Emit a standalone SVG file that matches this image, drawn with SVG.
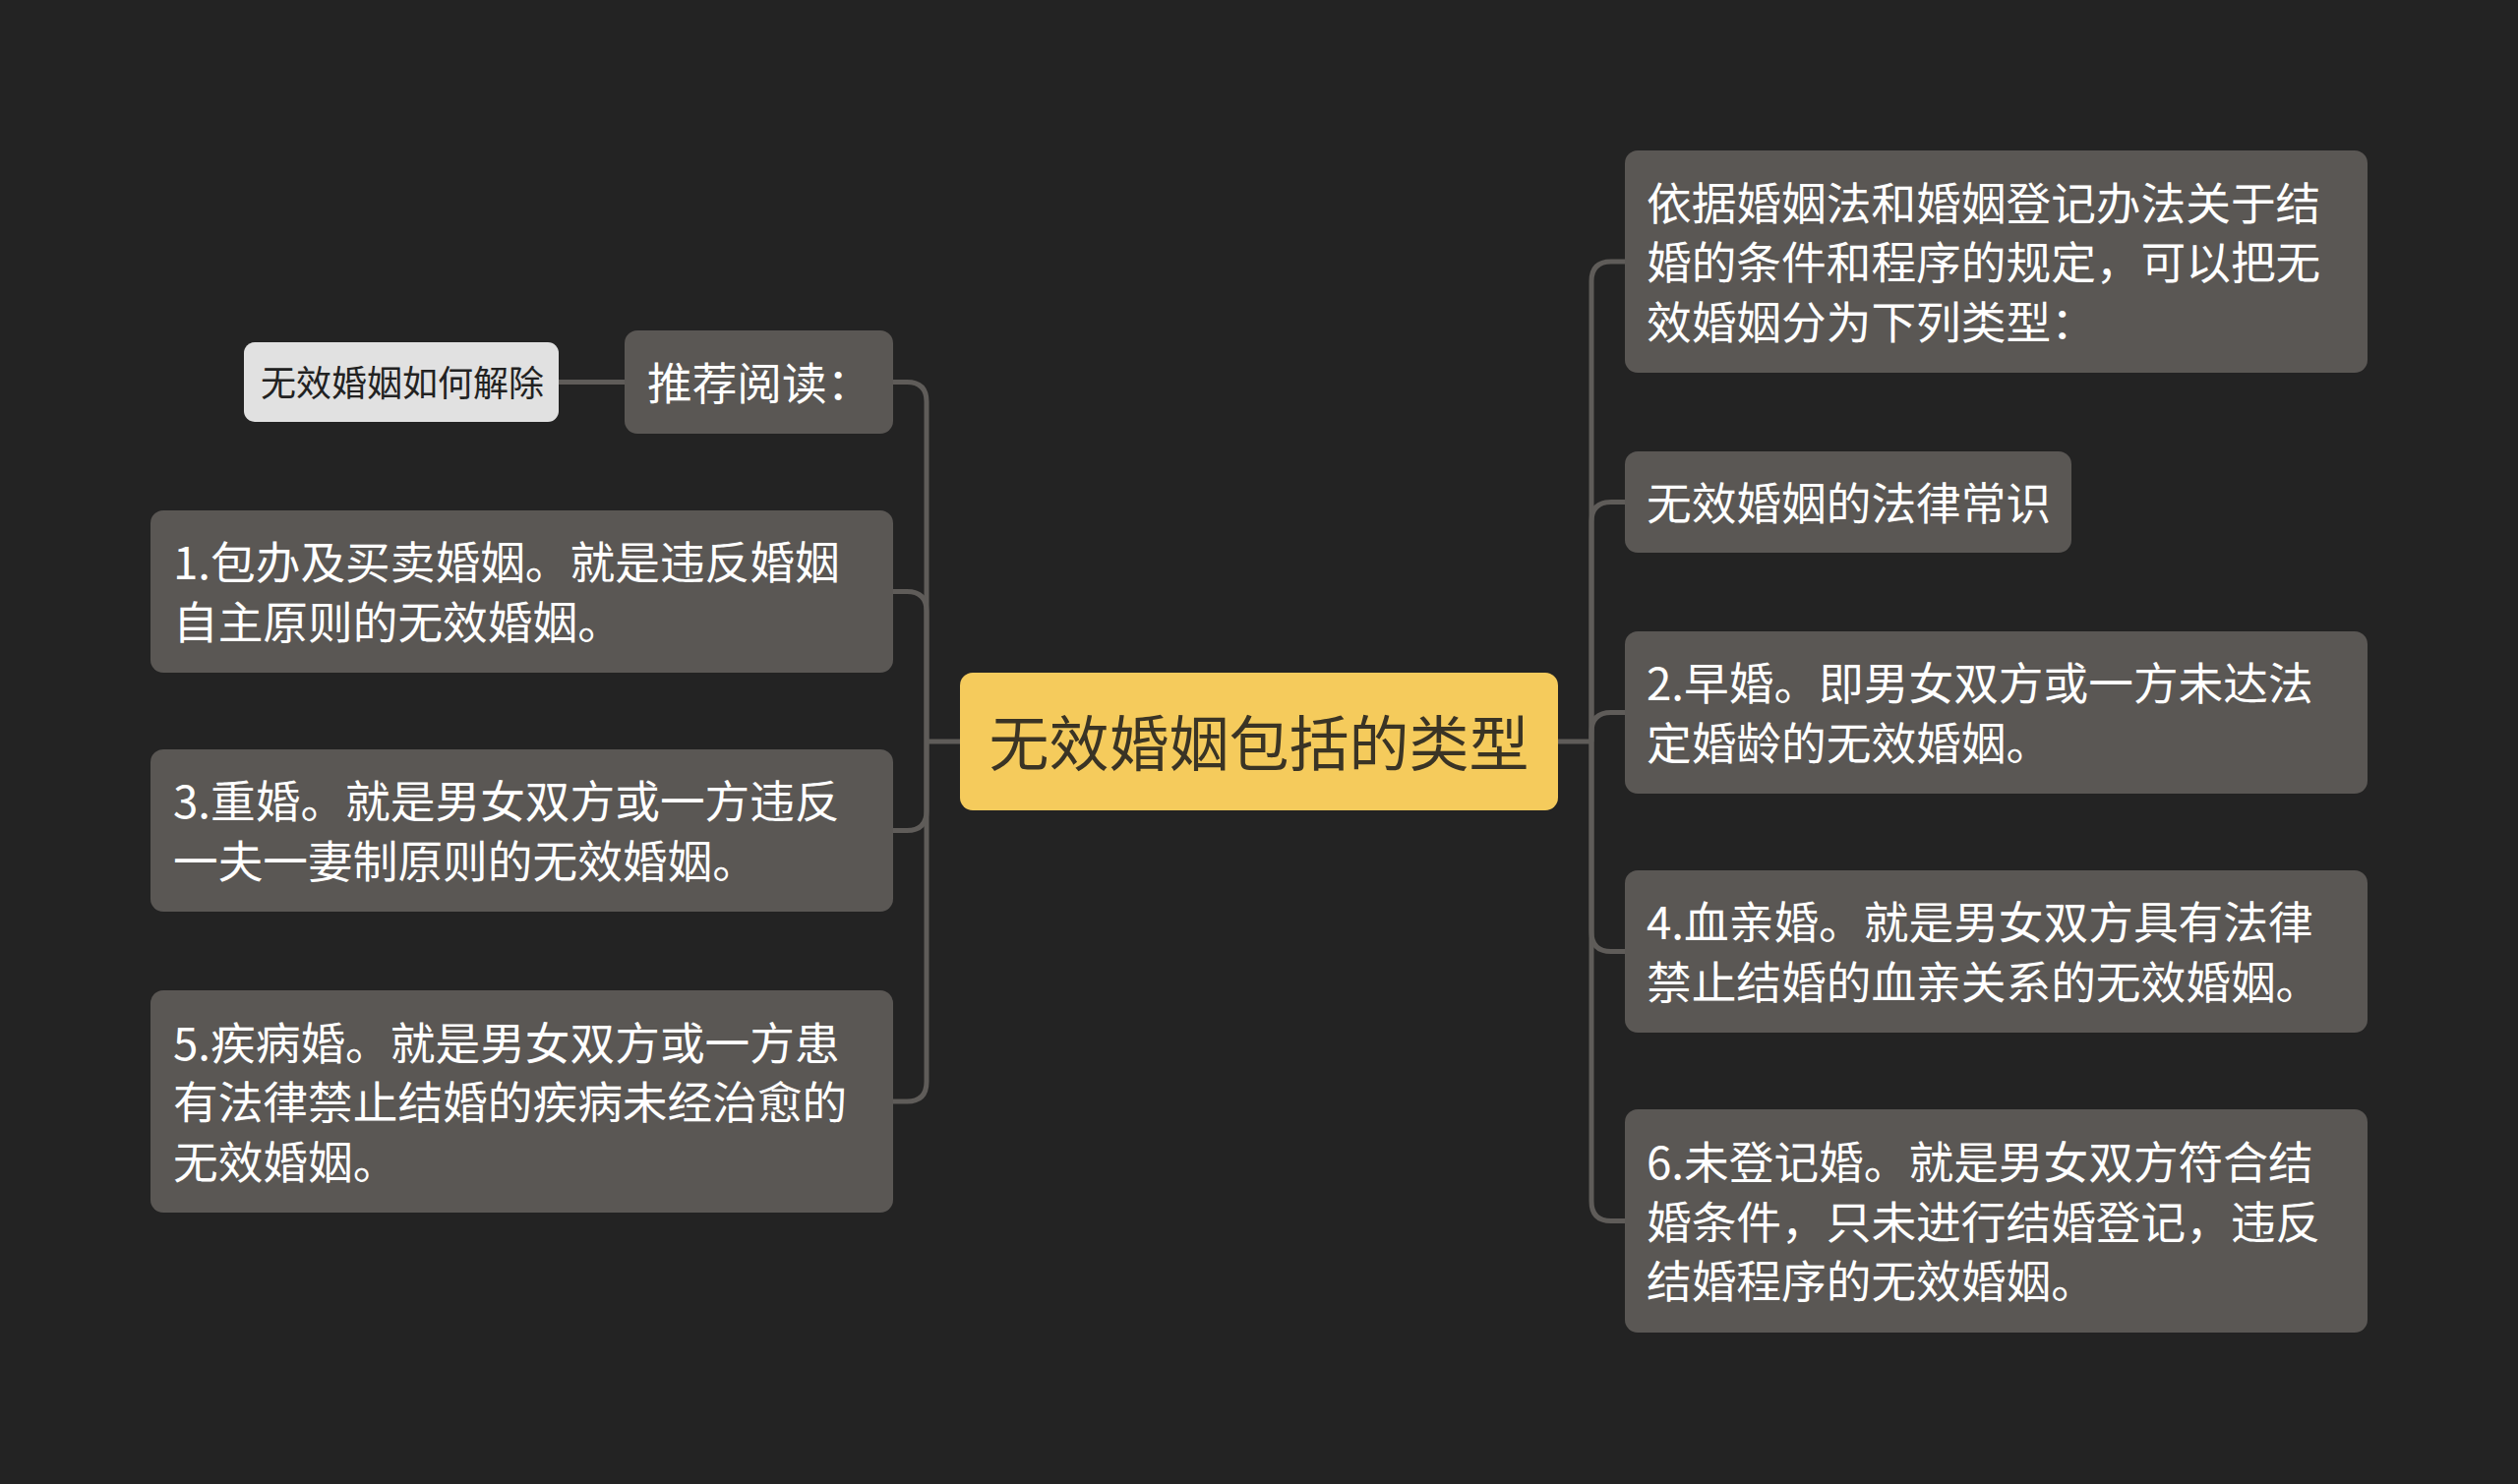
<svg xmlns="http://www.w3.org/2000/svg" width="2560" height="1509" viewBox="0 0 2560 1509">
<style>
.bg{fill:#232323}
.node{fill:#5a5754}
.t{font-family:"Noto Sans CJK SC","Noto Sans",sans-serif;font-size:45.7px;fill:#ffffff;dominant-baseline:central}
.center{fill:#f5cb5c}
.ct{font-family:"Noto Sans CJK SC","Noto Sans",sans-serif;font-size:61px;fill:#3a3425;dominant-baseline:central;text-anchor:middle}
.small{fill:#e1e1e1}
.st{font-family:"Noto Sans CJK SC","Noto Sans",sans-serif;font-size:36px;fill:#222222;dominant-baseline:central;text-anchor:middle}
.c{fill:none;stroke:#5f5c59;stroke-width:5}
</style>
<rect class="bg" x="0" y="0" width="2560" height="1509"/>
<g id="connectors">
<path class="c" d="M 976 754 H 942"/>
<path class="c" d="M 908 388.5 H 922 Q 942 388.5 942 408.5 V 754"/>
<path class="c" d="M 908 601.5 H 922 Q 942 601.5 942 621.5 V 754"/>
<path class="c" d="M 908 844.5 H 922 Q 942 844.5 942 824.5 V 754"/>
<path class="c" d="M 908 1120 H 922 Q 942 1120 942 1100 V 754"/>
<path class="c" d="M 568 388.5 H 635"/>
<path class="c" d="M 1584 754 H 1618"/>
<path class="c" d="M 1652 266 H 1638 Q 1618 266 1618 286 V 754"/>
<path class="c" d="M 1652 510.5 H 1638 Q 1618 510.5 1618 530.5 V 754"/>
<path class="c" d="M 1652 724.5 H 1638 Q 1618 724.5 1618 744.5 V 754"/>
<path class="c" d="M 1652 967.5 H 1638 Q 1618 967.5 1618 947.5 V 754"/>
<path class="c" d="M 1652 1241.5 H 1638 Q 1618 1241.5 1618 1221.5 V 754"/>
</g>
<g id="center">
<rect class="center" x="976" y="684" width="608" height="140" rx="13"/>
<text class="ct" x="1280" y="752">无效婚姻包括的类型</text>
</g>
<g id="recommend">
<rect class="node" x="635" y="336" width="273" height="105" rx="13"/>
<text class="t" x="658" y="386.5">推荐阅读：</text>
</g>
<g id="recommend-item">
<rect class="small" x="248" y="348" width="320" height="81" rx="11"/>
<text class="st" x="409" y="387">无效婚姻如何解除</text>
</g>
<g id="left1">
<rect class="node" x="153" y="519" width="755" height="165" rx="13"/>
<text class="t" x="176" y="569">1.包办及买卖婚姻。就是违反婚姻</text>
<text class="t" x="176" y="630">自主原则的无效婚姻。</text>
</g>
<g id="left3">
<rect class="node" x="153" y="762" width="755" height="165" rx="13"/>
<text class="t" x="176" y="812">3.重婚。就是男女双方或一方违反</text>
<text class="t" x="176" y="873">一夫一妻制原则的无效婚姻。</text>
</g>
<g id="left5">
<rect class="node" x="153" y="1007" width="755" height="226" rx="13"/>
<text class="t" x="176" y="1057.5">5.疾病婚。就是男女双方或一方患</text>
<text class="t" x="176" y="1118">有法律禁止结婚的疾病未经治愈的</text>
<text class="t" x="176" y="1178.5">无效婚姻。</text>
</g>
<g id="right0">
<rect class="node" x="1652" y="153" width="755" height="226" rx="13"/>
<text class="t" x="1674" y="203.5">依据婚姻法和婚姻登记办法关于结</text>
<text class="t" x="1674" y="264">婚的条件和程序的规定，可以把无</text>
<text class="t" x="1674" y="324.5">效婚姻分为下列类型：</text>
</g>
<g id="right1">
<rect class="node" x="1652" y="459" width="454" height="103" rx="13"/>
<text class="t" x="1674" y="508.5">无效婚姻的法律常识</text>
</g>
<g id="right2">
<rect class="node" x="1652" y="642" width="755" height="165" rx="13"/>
<text class="t" x="1674" y="692">2.早婚。即男女双方或一方未达法</text>
<text class="t" x="1674" y="753">定婚龄的无效婚姻。</text>
</g>
<g id="right4">
<rect class="node" x="1652" y="885" width="755" height="165" rx="13"/>
<text class="t" x="1674" y="935">4.血亲婚。就是男女双方具有法律</text>
<text class="t" x="1674" y="996">禁止结婚的血亲关系的无效婚姻。</text>
</g>
<g id="right6">
<rect class="node" x="1652" y="1128" width="755" height="227" rx="13"/>
<text class="t" x="1674" y="1179">6.未登记婚。就是男女双方符合结</text>
<text class="t" x="1674" y="1239.5">婚条件，只未进行结婚登记，违反</text>
<text class="t" x="1674" y="1300">结婚程序的无效婚姻。</text>
</g>
</svg>
